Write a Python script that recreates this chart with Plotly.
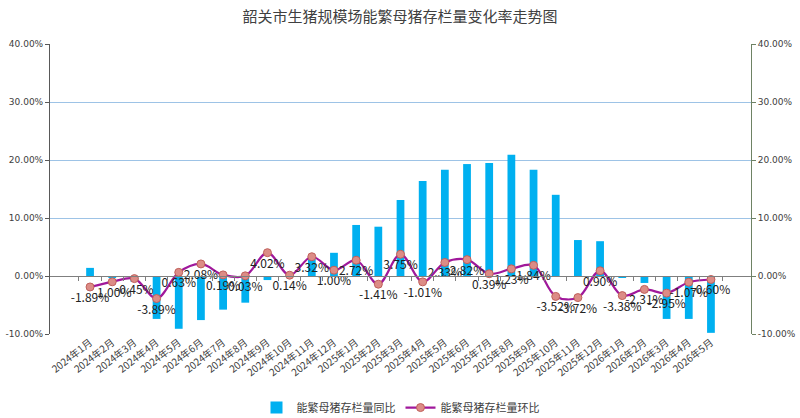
import plotly.graph_objects as go

months = (["2024年%d月" % m for m in range(1, 13)] +
          ["2025年%d月" % m for m in range(1, 13)] +
          ["2026年%d月" % m for m in range(1, 6)])

yoy = [1.4, -0.3, -1.0, -7.4, -9.1, -7.6, -5.8, -4.6, -0.7, 0.1, 3.2, 4.0,
       8.8, 8.5, 13.1, 16.4, 18.3, 19.3, 19.5, 20.9, 18.3, 14.0, 6.2, 6.0,
       -0.3, -1.2, -7.4, -7.4, -9.8]

mom = [-1.89, -1.00, -0.45, -3.89, 0.63, 2.08, 0.19, 0.03, 4.02, 0.14, 3.32, 1.00,
       2.72, -1.41, 3.75, -1.01, 2.33, 2.82, 0.39, 1.23, 1.84, -3.52, -3.72, 0.90,
       -3.38, -2.31, -2.95, -1.07, -0.60]

tickvals = [-10, 0, 10, 20, 30, 40]
ticktext = ["%.2f%%" % v for v in tickvals]

font_cjk = "Noto Sans CJK SC, Microsoft YaHei, sans-serif"

fig = go.Figure()
fig.add_trace(go.Bar(
    x=months, y=yoy, name="能繁母猪存栏量同比",
    marker=dict(color="#00B0F0", line=dict(width=0)),
    width=0.35,
))
fig.add_trace(go.Scatter(
    x=months, y=mom, name="能繁母猪存栏量环比",
    mode="lines+markers+text",
    line=dict(color="#A0189B", width=2.2, shape="spline", smoothing=1.0),
    marker=dict(size=8, color="#DC8C86", line=dict(color="#C0605A", width=1)),
    text=["%.2f%%" % v for v in mom],
    textposition="bottom center",
    textfont=dict(size=12, color="#222222", family=font_cjk),
    yaxis="y2",
))
# invisible trace to draw the category axis at zero
fig.add_trace(go.Scatter(x=months, y=[None] * len(months), xaxis="x2",
                         showlegend=False, hoverinfo="skip"))

fig.update_layout(
    width=800, height=418,
    margin=dict(l=50, r=49, t=44, b=84, autoexpand=False),
    paper_bgcolor="white", plot_bgcolor="white",
    font=dict(family=font_cjk, color="#404040"),
    title=dict(text="韶关市生猪规模场能繁母猪存栏量变化率走势图",
               x=0.5, xanchor="center", y=0.96, yanchor="middle",
               font=dict(size=15, color="#404040", family=font_cjk)),
    showlegend=True,
    legend=dict(orientation="h", x=0.5, xanchor="center",
                yref="container", y=0.025, yanchor="middle",
                font=dict(size=11, color="#404040"), traceorder="normal"),
    bargap=0.6,
    xaxis=dict(type="category", tickangle=-38, tickfont=dict(size=10, color="#404040"),
               showline=False, ticks="", showgrid=False, zeroline=False, automargin=False),
    xaxis2=dict(type="category", overlaying="x", anchor="free", position=0.2,
                matches="x", showline=True, linecolor="#7F7F7F", linewidth=1,
                ticks="outside", ticklen=4, tickcolor="#7F7F7F", tickson="boundaries",
                showticklabels=False, showgrid=False, zeroline=False, side="bottom",
                automargin=False),
    yaxis=dict(range=[-10, 40], tickvals=tickvals, ticktext=ticktext,
               tickfont=dict(size=9, color="#404040", family="DejaVu Sans"),
               showgrid=True, gridcolor="#9DC3E6", gridwidth=1,
               showline=True, linecolor="#595959", linewidth=1,
               ticks="outside", ticklen=4, tickcolor="#595959", zeroline=False,
               automargin=False),
    yaxis2=dict(range=[-10, 40], tickvals=tickvals, ticktext=ticktext,
                overlaying="y", side="right",
                tickfont=dict(size=9, color="#404040", family="DejaVu Sans"),
                showgrid=False, showline=True, linecolor="#6E8264", linewidth=1,
                ticks="outside", ticklen=4, tickcolor="#6E8264", zeroline=False,
                automargin=False),
)

fig.write_html("out.html")
